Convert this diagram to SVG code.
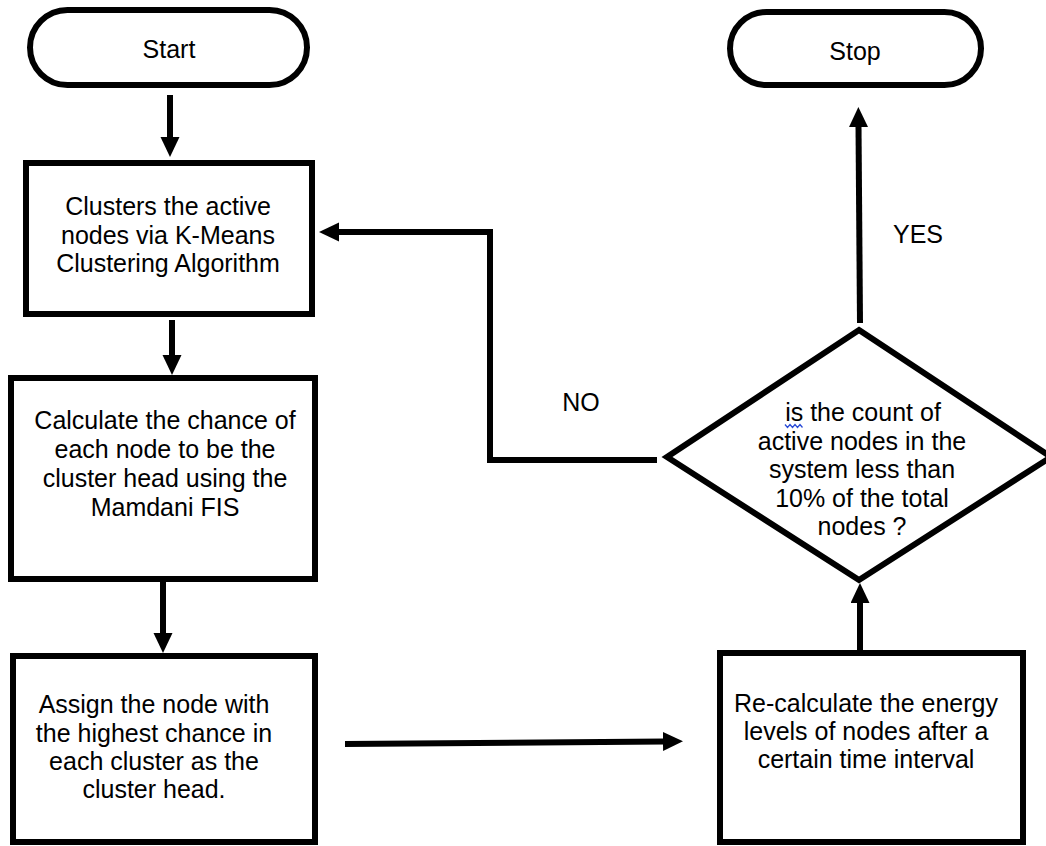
<svg xmlns="http://www.w3.org/2000/svg" width="1046" height="846" viewBox="0 0 1046 846">
<style>
.shape{fill:#fff;stroke:#000;stroke-width:6}
.conn{fill:none;stroke:#000;stroke-width:6;marker-end:url(#ah)}
text{font-family:"Liberation Sans",Arial,sans-serif;font-size:25px;fill:#000;text-anchor:middle}
</style>
<defs>
<marker id="ah" markerUnits="userSpaceOnUse" markerWidth="22" markerHeight="20" refX="2" refY="9.5" orient="auto" viewBox="0 0 22 20">
<path d="M0,0 L20,9.5 L0,19 z" fill="#000"/>
</marker>
</defs>
<rect width="1046" height="846" fill="#fff"/>
<g id="connectors">
<line class="conn" x1="170" y1="95" x2="170" y2="139"/>
<line class="conn" x1="172" y1="320" x2="172" y2="357"/>
<line class="conn" x1="163" y1="582" x2="163" y2="635"/>
<line class="conn" x1="345" y1="744" x2="665" y2="741.5"/>
<line class="conn" x1="860" y1="650" x2="860" y2="601"/>
<line class="conn" x1="860" y1="323" x2="858.5" y2="125"/>
<polyline class="conn" points="657,460 490,460 490,232 337,232"/>
</g>
<g id="start">
<rect class="shape" x="30" y="10" width="277" height="75" rx="37.5"/>
<text x="169" y="58">Start</text>
</g>
<g id="stop">
<rect class="shape" x="730" y="12" width="251" height="73" rx="36.5"/>
<text x="855" y="60">Stop</text>
</g>
<g id="cluster">
<rect class="shape" x="26" y="163" width="286" height="151"/>
<text x="168" y="215">Clusters the active</text>
<text x="168" y="244">nodes via K-Means</text>
<text x="168" y="272">Clustering Algorithm</text>
</g>
<g id="calc">
<rect class="shape" x="11" y="378" width="304" height="201"/>
<text x="165" y="429">Calculate the chance of</text>
<text x="165" y="458">each node to be the</text>
<text x="165" y="487">cluster head using the</text>
<text x="165" y="516">Mamdani FIS</text>
</g>
<g id="assign">
<rect class="shape" x="13" y="656" width="302" height="186"/>
<text x="154" y="713">Assign the node with</text>
<text x="154" y="742">the highest chance in</text>
<text x="154" y="770">each cluster as the</text>
<text x="154" y="798">cluster head.</text>
</g>
<g id="recalc">
<rect class="shape" x="720" y="653" width="303" height="189"/>
<text x="866" y="712">Re-calculate the energy</text>
<text x="866" y="740">levels of nodes after a</text>
<text x="866" y="768">certain time interval</text>
</g>
<g id="decision">
<polygon class="shape" points="859,330 1051,457 859,580 667,457"/>
<text x="863" y="421">is the count of</text>
<path d="M785,424.5 l2.5,3 l2.5,-3 l2.5,3 l2.5,-3 l2.5,3 l2.5,-3 l2.5,3" fill="none" stroke="#2a4bd7" stroke-width="1.3"/>
<text x="862" y="450">active nodes in the</text>
<text x="862" y="478">system less than</text>
<text x="862" y="507">10% of the total</text>
<text x="862" y="535">nodes ?</text>
</g>
<g id="labels">
<text x="918" y="243">YES</text>
<text x="581" y="411">NO</text>
</g>
</svg>
